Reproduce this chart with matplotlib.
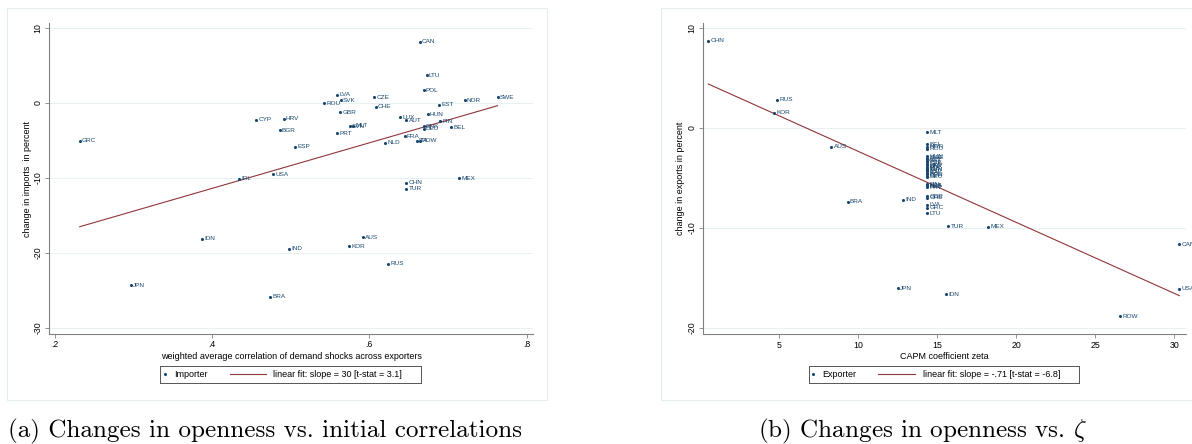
import numpy as np
import matplotlib.pyplot as plt
from matplotlib.patches import Rectangle

plt.rcParams['font.family'] = ['Liberation Sans', 'DejaVu Sans']
plt.rcParams['mathtext.fontset'] = 'cm'

# panel (a): importers
imp_codes = ['GRC', 'CYP', 'HRV', 'BGR', 'ESP', 'IRL', 'USA', 'CAN', 'LTU', 'POL',
             'LVA', 'SVK', 'ROU', 'CZE', 'CHE', 'GBR', 'MLT', 'SVN', 'PRT', 'NLD',
             'LUX', 'AUT', 'HUN', 'FIN', 'DNK', 'DEU', 'BEL', 'EST', 'NOR', 'SWE',
             'FRA', 'ITA', 'ROW', 'CHN', 'TUR', 'MEX', 'IDN', 'JPN', 'BRA', 'IND',
             'AUS', 'KOR', 'RUS']
imp_corr = [0.232, 0.456, 0.491, 0.486, 0.506, 0.434, 0.478, 0.664, 0.673, 0.669,
            0.559, 0.564, 0.543, 0.606, 0.608, 0.563, 0.579, 0.575, 0.559, 0.620,
            0.639, 0.647, 0.674, 0.690, 0.669, 0.669, 0.704, 0.689, 0.721, 0.763,
            0.645, 0.660, 0.664, 0.647, 0.647, 0.714, 0.388, 0.297, 0.474, 0.498,
            0.592, 0.574, 0.624]
imp_change = [-5.0, -2.2, -2.1, -3.6, -5.8, -10.1, -9.5, 8.2, 3.7, 1.7,
              1.1, 0.4, 0.0, 0.8, -0.5, -1.2, -3.0, -3.1, -4.0, -5.3,
              -1.9, -2.3, -1.5, -2.4, -3.1, -3.4, -3.2, -0.2, 0.4, 0.8,
              -4.4, -5.0, -5.0, -10.6, -11.4, -10.0, -18.1, -24.3, -25.8, -19.4,
              -17.9, -19.1, -21.4]
imp_fit = (-23.55, 30.4)

# panel (b): exporters
exp_codes = ['CHN', 'RUS', 'KOR', 'AUS', 'BRA', 'IND', 'JPN', 'IDN', 'TUR', 'MEX',
             'ROW', 'CAN', 'USA',
             'MLT', 'BEL', 'NOR', 'ROU', 'HUN', 'SWE', 'AUT', 'EST', 'CZE', 'SVK',
             'HRV', 'DNK', 'POL', 'IRL', 'SVN', 'ESP', 'ITA', 'BGR', 'DEU', 'CYP',
             'FIN', 'FRA', 'NLD', 'PRT', 'LUX', 'GBR', 'CHE', 'LVA', 'GRC', 'LTU']
exp_zeta = [0.51, 4.87, 4.66, 8.29, 9.33, 12.81, 12.51, 15.55, 15.70, 18.23,
            26.56, 30.32, 30.32] + [14.35] * 30
exp_change = [8.7, 2.8, 1.5, -1.9, -7.4, -7.2, -16.0, -16.6, -9.8, -9.9,
              -18.8, -11.6, -16.1,
              -0.45, -1.65, -1.9, -2.1, -2.85, -3.0, -3.15, -3.3, -3.45, -3.6,
              -3.75, -3.9, -4.0, -4.1, -4.2, -4.35, -4.5, -4.65, -4.9, -4.8,
              -5.65, -5.75, -5.85, -5.95, -5.8, -6.85, -7.0, -7.7, -8.0, -8.55]
exp_fit = (4.76, -0.71)

W, H = 1192, 444
navy = '#1a476f'
maroon = '#90353b'
fs = 6.5

fig = plt.figure(figsize=(W / 100, H / 100), dpi=100)


def box(x0, y0, x1, y1):
    # rectangle given in pixel coords (top-left origin) -> figure fraction
    return [x0 / W, 1 - y1 / H, (x1 - x0) / W, (y1 - y0) / H]


def panel(rect, codes, xs, ys, fit, xlim, ylim, xticks, xticklabels, yticks,
          xlabel, ylabel):
    ax = fig.add_axes(rect)
    ax.scatter(xs, ys, s=5, color=navy, zorder=3, linewidths=0)
    for c, x, y in zip(codes, xs, ys):
        ax.annotate(c, (x, y), xytext=(1.6, 0), textcoords='offset points',
                    fontsize=4.6, color=navy, va='center', ha='left',
                    annotation_clip=False)
    xx = np.array([min(xs), max(xs)])
    ax.plot(xx, fit[0] + fit[1] * xx, color=maroon, lw=0.8, zorder=2)
    ax.set_xlim(*xlim)
    ax.set_ylim(*ylim)
    ax.set_xticks(xticks)
    ax.set_xticklabels(xticklabels)
    ax.set_yticks(yticks)
    ax.set_yticklabels([str(t) for t in yticks], rotation=90, va='center')
    ax.tick_params(direction='out', length=3, width=0.6, color='#808080',
                   labelsize=6.3, pad=1.5)
    for s in ['top', 'right']:
        ax.spines[s].set_visible(False)
    for s in ['left', 'bottom']:
        ax.spines[s].set_color('#808080')
        ax.spines[s].set_linewidth(0.8)
    ax.yaxis.grid(True, color='#e8f0f2', lw=0.8)
    ax.set_axisbelow(True)
    ax.set_xlabel(xlabel, fontsize=fs, labelpad=2)
    ax.set_ylabel(ylabel, fontsize=fs, labelpad=1.5)
    return ax


def legend_box(rect, dot_x, text_x, line_x0, line_x1, fit_text_x, dot_label, fit_label):
    lax = fig.add_axes(rect)
    lax.set_xlim(0, 1)
    lax.set_ylim(0, 1)
    lax.set_xticks([])
    lax.set_yticks([])
    for s in lax.spines.values():
        s.set_color('#555555')
        s.set_linewidth(0.7)
    lax.plot([dot_x], [0.5], 'o', ms=2.2, color=navy, mec='none')
    lax.text(text_x, 0.47, dot_label, fontsize=fs, va='center')
    lax.plot([line_x0, line_x1], [0.5, 0.5], color=maroon, lw=0.8)
    lax.text(fit_text_x, 0.47, fit_label, fontsize=fs, va='center')


# outer panel frames
for x0, x1 in [(7, 547), (661, 1210)]:
    fig.patches.append(Rectangle((x0 / W, 1 - 400 / H), (x1 - x0) / W, 392 / H,
                                 transform=fig.transFigure, fill=False,
                                 edgecolor='#e6edf0', lw=0.8))

panel(box(49, 23, 533, 334), imp_codes, imp_corr, imp_change, imp_fit,
      (0.193, 0.808), (-30.8, 10.67), [0.2, 0.4, 0.6, 0.8],
      ['.2', '.4', '.6', '.8'], [-30, -20, -10, 0, 10],
      'weighted average correlation of demand shocks across exporters',
      'change in imports  in percent')

panel(box(702.7, 22.7, 1185.7, 334.3), exp_codes, exp_zeta, exp_change, exp_fit,
      (0.152, 30.72), (-20.63, 10.53), [5, 10, 15, 20, 25, 30],
      ['5', '10', '15', '20', '25', '30'], [-20, -10, 0, 10],
      'CAPM coefficient zeta', 'change in exports in percent')

lw1 = 421 - 160
legend_box(box(160, 365.7, 421, 383), 4.7 / lw1, 14 / lw1, 70 / lw1, 105.7 / lw1,
           113 / lw1, 'Importer', 'linear fit: slope = 30 [t-stat = 3.1]')
lw2 = 1079.3 - 809
legend_box(box(809, 365.7, 1079.3, 383), 4.3 / lw2, 13.7 / lw2, 69 / lw2, 106 / lw2,
           114.3 / lw2, 'Exporter', 'linear fit: slope = -.71 [t-stat = -6.8]')

fig.text(265 / W, 1 - 437 / H, '(a) Changes in openness vs. initial correlations',
         fontfamily='cmr10', fontsize=18.1, ha='center', va='baseline')
fig.text(922 / W, 1 - 437 / H, r'(b) Changes in openness vs. $\zeta$',
         fontfamily='cmr10', fontsize=18.1, ha='center', va='baseline')

fig.savefig('out.png', dpi=100)
